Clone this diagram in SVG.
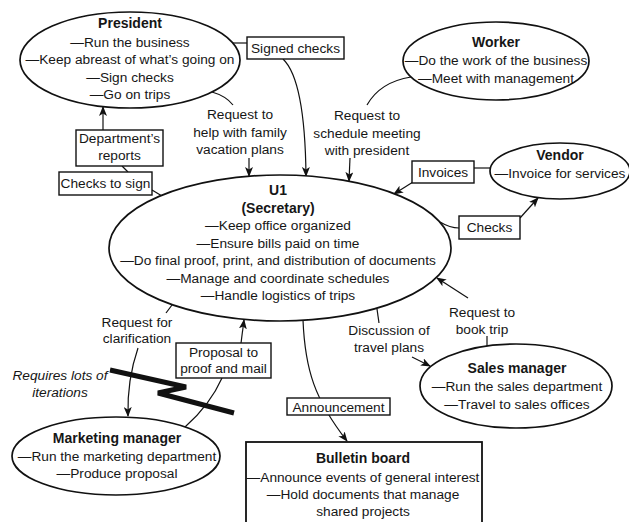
<svg xmlns="http://www.w3.org/2000/svg" width="629" height="522" viewBox="0 0 629 522">
<defs>
<marker id="arr" viewBox="0 0 10 8" refX="9" refY="4" markerWidth="10" markerHeight="8" markerUnits="userSpaceOnUse" orient="auto">
<path d="M0,0 L10,4 L0,8 L2.5,4 z" fill="#111"/>
</marker>
<style>
text{font-family:"Liberation Sans",Arial,sans-serif;font-size:13.7px;text-anchor:middle;fill:#161616}
.b{font-weight:bold;font-size:14px}
.i{font-style:italic}
.node ellipse{fill:#fff;stroke:#111;stroke-width:1.7}
.box{fill:#fff;stroke:#111;stroke-width:1.4}
.bb{fill:#fff;stroke:#111;stroke-width:1.8}
#connectors path{fill:none;stroke:#111;stroke-width:1.2}
.ar{marker-end:url(#arr)}
</style>
</defs>
<rect width="629" height="522" fill="#fff"/>

<g id="connectors">
<path d="M233,43 L247,43"/>
<path class="ar" d="M283,59 Q305,80 306,176"/>
<path d="M212,92 Q226,96 233,105"/>
<path class="ar" d="M249,158 L249,176"/>
<path d="M411,77 Q380,82 367,105"/>
<path class="ar" d="M350,158 L349,181"/>
<path d="M152,190 L162,196"/>
<path d="M128,172 L122,166"/>
<path class="ar" d="M103,130 L103,107"/>
<path d="M474,168 L490,168"/>
<path class="ar" d="M413,182 L394,194"/>
<path d="M440,222 Q450,228 459,228"/>
<path class="ar" d="M520,218 L538,198"/>
<path d="M487,336 L487,346"/>
<path class="ar" d="M468,298 L437,278"/>
<path d="M377,309 L379,323"/>
<path class="ar" d="M412,357 L430,366"/>
<path d="M172,305 L166,313"/>
<path class="ar" d="M138,348 Q127,380 128,416"/>
<path d="M185,427 Q210,405 222,378"/>
<path class="ar" d="M241,343 L244,320"/>
<path class="ar" d="M303,320 C305,370 315,400 347,441"/>
</g>

<g id="president" class="node">
<ellipse cx="130" cy="60" rx="110" ry="48"/>
<text x="130" y="28" class="b">President</text>
<text x="130" y="47">—Run the business</text>
<text x="130" y="64">—Keep abreast of what’s going on</text>
<text x="130" y="82">—Sign checks</text>
<text x="130" y="99">—Go on trips</text>
</g>

<g id="worker" class="node">
<ellipse cx="496" cy="61" rx="93" ry="39"/>
<text x="496" y="47" class="b">Worker</text>
<text x="496" y="65">—Do the work of the business</text>
<text x="496" y="83">—Meet with management</text>
</g>

<g id="vendor" class="node">
<ellipse cx="560" cy="171" rx="70" ry="28"/>
<text x="560" y="160" class="b">Vendor</text>
<text x="560" y="178">—Invoice for services</text>
</g>

<g id="u1" class="node">
<ellipse cx="280" cy="248" rx="171" ry="73"/>
<text x="278" y="195" class="b">U1</text>
<text x="278" y="213" class="b">(Secretary)</text>
<text x="278" y="230">—Keep office organized</text>
<text x="278" y="248">—Ensure bills paid on time</text>
<text x="278" y="265">—Do final proof, print, and distribution of documents</text>
<text x="278" y="283">—Manage and coordinate schedules</text>
<text x="278" y="300">—Handle logistics of trips</text>
</g>

<g id="sales-manager" class="node">
<ellipse cx="516" cy="386" rx="96" ry="42"/>
<text x="517" y="373" class="b">Sales manager</text>
<text x="517" y="391">—Run the sales department</text>
<text x="517" y="409">—Travel to sales offices</text>
</g>

<g id="marketing-manager" class="node">
<ellipse cx="116" cy="456" rx="104" ry="39"/>
<text x="117" y="443" class="b">Marketing manager</text>
<text x="117" y="461">—Run the marketing department</text>
<text x="117" y="478">—Produce proposal</text>
</g>

<g id="bulletin-board" class="node">
<rect class="bb" x="246" y="442" width="236" height="90"/>
<text x="363" y="463" class="b">Bulletin board</text>
<text x="363" y="482">—Announce events of general interest</text>
<text x="363" y="499">—Hold documents that manage</text>
<text x="363" y="516">shared projects</text>
</g>

<g id="label-signed-checks">
<rect class="box" x="247" y="37" width="97" height="22"/>
<text x="295.5" y="53">Signed checks</text>
</g>
<g id="label-departments-reports">
<rect class="box" x="76" y="130" width="87" height="36"/>
<text x="119.5" y="143">Department’s</text>
<text x="119.5" y="160">reports</text>
</g>
<g id="label-checks-to-sign">
<rect class="box" x="59" y="172" width="93" height="23"/>
<text x="105.5" y="188">Checks to sign</text>
</g>
<g id="label-invoices">
<rect class="box" x="412" y="161" width="62" height="22"/>
<text x="443" y="177">Invoices</text>
</g>
<g id="label-checks">
<rect class="box" x="459" y="216" width="61" height="23"/>
<text x="489.5" y="232">Checks</text>
</g>
<g id="label-proposal">
<rect class="box" x="176" y="343" width="95" height="35"/>
<text x="223.5" y="357">Proposal to</text>
<text x="223.5" y="373">proof and mail</text>
</g>
<g id="label-announcement">
<rect class="box" x="287" y="398" width="103" height="17"/>
<text x="338.5" y="411.5">Announcement</text>
</g>

<g id="label-family-vacation">
<text x="240" y="119">Request to</text>
<text x="240" y="137">help with family</text>
<text x="240" y="154">vacation plans</text>
</g>
<g id="label-schedule-meeting">
<text x="367" y="120">Request to</text>
<text x="367" y="138">schedule meeting</text>
<text x="367" y="155">with president</text>
</g>
<g id="label-clarification">
<text x="137" y="327">Request for</text>
<text x="137" y="343">clarification</text>
</g>
<g id="label-travel-plans">
<text x="389" y="335">Discussion of</text>
<text x="389" y="352">travel plans</text>
</g>
<g id="label-book-trip">
<text x="482" y="317">Request to</text>
<text x="482" y="334">book trip</text>
</g>
<g id="note-iterations">
<text x="60" y="380" class="i">Requires lots of</text>
<text x="60" y="397" class="i">iterations</text>
<polyline points="110,370 186,387 158,393 234,413" fill="none" stroke="#111" stroke-width="5" stroke-linejoin="miter"/>
</g>
</svg>
